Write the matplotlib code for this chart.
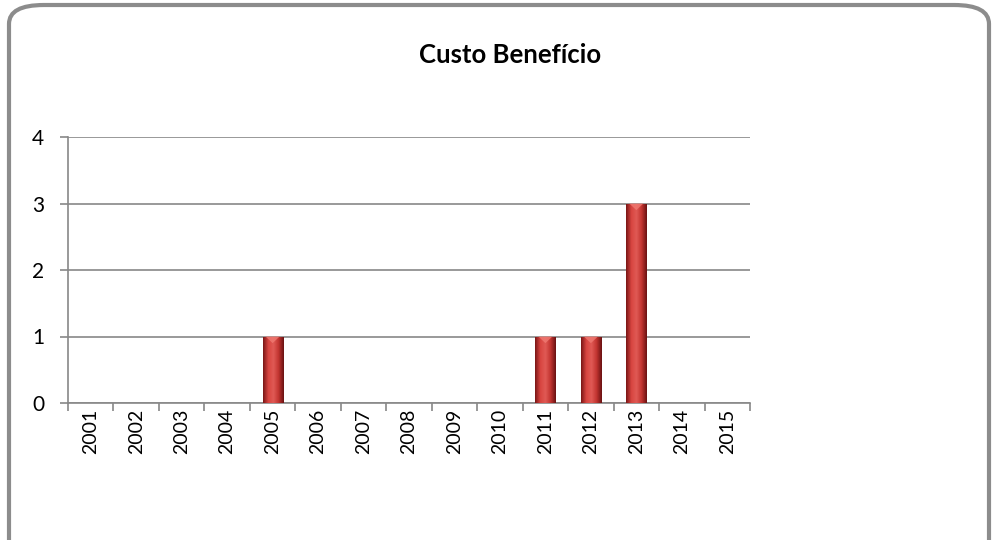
import matplotlib.pyplot as plt
import numpy as np
from matplotlib.patches import FancyBboxPatch
from matplotlib.colors import LinearSegmentedColormap

# Dados
anos = ['2001', '2002', '2003', '2004', '2005', '2006', '2007', '2008',
        '2009', '2010', '2011', '2012', '2013', '2014', '2015']
valores = [0, 0, 0, 0, 1, 0, 0, 0, 0, 0, 1, 1, 3, 0, 0]

plt.rcParams['font.family'] = ['Lato', 'DejaVu Sans']

fig = plt.figure(figsize=(9.96, 5.4), dpi=100)
W, H = 996, 540

# Moldura arredondada
moldura = FancyBboxPatch((9 / W, -20 / H), 980 / W, 555 / H,
                         boxstyle='round,pad=0,rounding_size=0.035',
                         transform=fig.transFigure, facecolor='white',
                         edgecolor='#8c8c8c', linewidth=3, zorder=-10)
fig.patches.append(moldura)

ax = fig.add_axes([68 / W, 137 / H, 682 / W, 266 / H])
ax.set_facecolor('none')
ax.set_zorder(1)

x = np.arange(len(anos))
bars = ax.bar(x, valores, width=0.44, color='#c0302c', edgecolor='#6e1414',
              linewidth=0.6, zorder=3)

# Gradiente horizontal nas barras
cmap = LinearSegmentedColormap.from_list('barra', ['#7a1616', '#d84440', '#e05a55', '#c23430', '#6a1212'])
grad = np.linspace(0, 1, 64).reshape(1, -1)
for b in bars:
    h = b.get_height()
    if h <= 0:
        continue
    x0 = b.get_x()
    w = b.get_width()
    im = ax.imshow(grad, cmap=cmap, aspect='auto', extent=(x0, x0 + w, 0, h), zorder=3.5)
    im.set_clip_path(b)
    # ponta triangular no topo
    ax.fill([x0 + w * 0.15, x0 + w * 0.85, x0 + w / 2], [h, h, h - 0.1],
            color='#f07a72', alpha=0.8, zorder=4, linewidth=0)

ax.set_xlim(-0.5, len(anos) - 0.5)
ax.set_ylim(0, 4)
ax.set_yticks([0, 1, 2, 3, 4])
ax.set_xticks(x)
ax.set_xticklabels(anos, rotation=90)
ax.set_xticks(np.arange(-0.5, len(anos)), minor=True)
ax.tick_params(axis='x', which='major', length=0, pad=4, labelsize=14)
ax.tick_params(axis='x', which='minor', length=6, color='#888888', width=1.2)
ax.tick_params(axis='y', length=6, color='#888888', width=1.2, labelsize=15, pad=11)

ax.grid(axis='y', color='#888888', linewidth=1.2, zorder=1)
for lado in ['top', 'right']:
    ax.spines[lado].set_visible(False)
for lado in ['left', 'bottom']:
    ax.spines[lado].set_color('#888888')
    ax.spines[lado].set_linewidth(1.2)

fig.text(510 / W, 1 - 55 / H, 'Custo Benefício', ha='center', va='center',
         fontsize=18.5, fontweight='bold')

fig.savefig('out.png', dpi=100)
